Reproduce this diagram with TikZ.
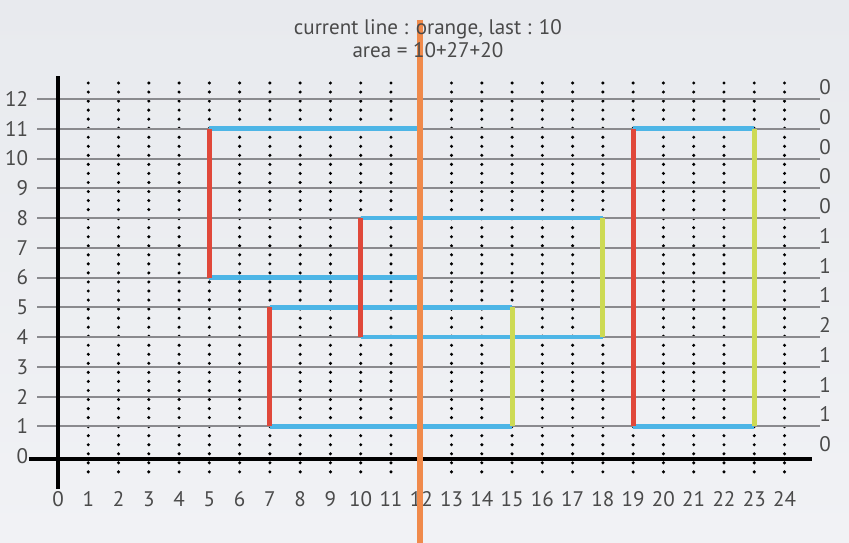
\documentclass[tikz,border=0pt]{standalone}
\usepackage{fontspec}
\setmainfont{PT Sans}
\usepackage{tikz}
\usetikzlibrary{positioning}
\definecolor{bgtop}    {RGB}{232,234,238}
\definecolor{bgbot}    {RGB}{241,242,245}
\definecolor{gridgray} {RGB}{138,138,142}
\definecolor{edgeblue} {RGB}{77,181,230}
\definecolor{openred}  {RGB}{224,72,58}
\definecolor{closeyel} {RGB}{205,218,84}
\definecolor{sweeporg} {RGB}{240,138,75}
\definecolor{txtgray}  {RGB}{74,74,74}
\tikzset{
  gridln/.style   ={draw=gridgray, line width=0.9pt},
  dotcol/.style   ={line width=1.6pt, line cap=round, dash pattern=on 0pt off 4.25pt},
  axisln/.style   ={line width=2pt},
  hedge/.style    ={draw=edgeblue, line width=2.2pt},
  openedge/.style ={draw=openred,  line width=2.4pt},
  closeedge/.style={draw=closeyel, line width=2.4pt},
  sweepln/.style  ={draw=sweeporg, line width=2.6pt},
  numlbl/.style   ={font=\fontsize{9.9}{11}\selectfont, text=txtgray, inner sep=1pt},
}

\begin{document}
\begin{tikzpicture}[x=0.5cm, y=0.4914cm]

%% ─── Background ──────────────────────────────────────────────────────────────
\shade[top color=bgtop, bottom color=bgbot]
  (-1.916,-2.92) rectangle (26.13,15.33);
\useasboundingbox (-1.916,-2.92) rectangle (26.13,15.33);

%% ─── Dotted columns ──────────────────────────────────────────────────────────
\foreach \x in {1,...,24}{
  \draw[dotcol] (\x,12.54) -- (\x,-0.68);
}

%% ─── Grid lines and row labels ───────────────────────────────────────────────
\foreach \y in {1,...,12}{
  \draw[gridln] (-0.69,\y) -- (25.17,\y);
}
\foreach \y in {0,...,12}{
  \node[numlbl, anchor=east] (r\y) at (-0.9,\y) {\y};
}

%% ─── Axes ────────────────────────────────────────────────────────────────────
\draw[axisln] (0,12.77) -- (0,-1.11);
\draw[axisln] (-0.96,-0.1) -- (24.9,-0.1);
\foreach \x in {0,...,24}{
  \node[numlbl] (c\x) at (\x,-1.45) {\x};
}

%% ─── Rectangle edges ─────────────────────────────────────────────────────────
\foreach \xa/\xb/\y in {5/12/11, 5/12/6, 10/18/8, 10/18/4,
                        7/15/5, 7/15/1, 19/23/11, 19/23/1}{
  \draw[hedge] (\xa,\y) -- (\xb,\y);
}
\foreach \x/\ya/\yb in {5/6/11, 10/4/8, 7/1/5, 19/1/11}{
  \draw[openedge] (\x,\ya) -- (\x,\yb);
}
\foreach \x/\ya/\yb in {15/1/5, 18/4/8, 23/1/11}{
  \draw[closeedge] (\x,\ya) -- (\x,\yb);
}

%% ─── Cover counts ────────────────────────────────────────────────────────────
\foreach \k/\v in {12/0, 11/0, 10/0, 9/0, 8/0, 7/1, 6/1,
                   5/1, 4/2, 3/1, 2/1, 1/1, 0/0}{
  \node[numlbl] (n\k) at (25.34,\k+0.4) {\v};
}

%% ─── Sweep line and status ───────────────────────────────────────────────────
\draw[sweepln] (11.96,14.66) -- (11.96,-3.0);
\node[numlbl] (title1) at (12.22,14.35) {current line : orange, last : 10};
\node[numlbl] (title2) at (12.22,13.63) {area = 10+27+20};

\end{tikzpicture}
\end{document}
